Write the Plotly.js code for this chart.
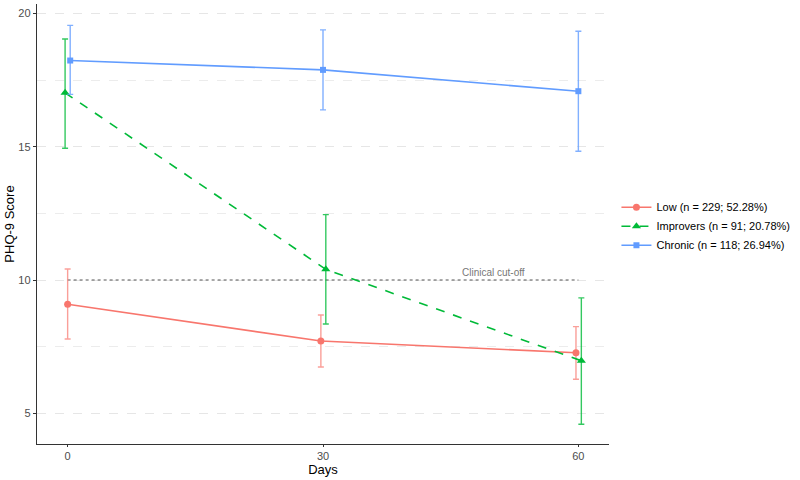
<!DOCTYPE html>
<html>
<head>
<meta charset="utf-8">
<script src="https://cdn.plot.ly/plotly-3.0.1.min.js"></script>
<style>html,body{margin:0;padding:0;background:#fff;}#chart{width:800px;height:480px;}</style>
</head>
<body>
<div id="chart"></div>
<script>
// Series names
const seriesNames = ["Low (n = 229; 52.28%)", "Improvers (n = 91; 20.78%)", "Chronic (n = 118; 26.94%)"];
// Days of measurement
const days = [0, 30, 60];
// Dodge offsets (days) per series
const lowDodge = [0, -0.25, -0.28];
const improversDodge = [-0.3, 0.33, 0.35];
const chronicDodge = [0.3, 0, 0];
// Mean PHQ-9 scores
const lowMean = [9.09, 7.71, 7.27];
const improversMean = [17.02, 10.4, 6.97];
const chronicMean = [18.23, 17.88, 17.08];
// Error bar upper / lower bounds
const lowUpper = [10.41, 8.69, 8.25];
const lowLower = [7.79, 6.74, 6.28];
const improversUpper = [19.04, 12.45, 9.33];
const improversLower = [14.94, 8.35, 4.59];
const chronicUpper = [19.55, 19.38, 19.33];
const chronicLower = [16.96, 16.38, 14.83];
// Clinical cut-off
const cutoffDays = [0, 60];
const cutoffValue = 10;
const cutoffLabel = "Clinical cut-off";
const xTicks = [0, 30, 60];
const yTicks = [5, 10, 15, 20];

const colors = ["#F8766D", "#00BA38", "#619CFF"];
const errColors = ["rgba(248,118,109,0.7)", "rgba(0,186,56,0.8)", "rgba(97,156,255,0.8)"];

function mk(name, dodge, y, up, lo, color, errColor, dash, symbol, size) {
  return {
    type: "scatter", mode: "lines+markers", name: name,
    x: days.map((d, i) => d + dodge[i]), y: y,
    line: {color: color, width: 1.6, dash: dash},
    marker: {color: color, symbol: symbol, size: size},
    error_y: {type: "data", symmetric: false,
      array: y.map((v, i) => up[i] - v),
      arrayminus: y.map((v, i) => v - lo[i]),
      color: errColor, thickness: 1.4, width: 3}
  };
}

const traces = [
  {type: "scatter", mode: "lines", x: cutoffDays, y: cutoffDays.map(() => cutoffValue),
   line: {color: "#555555", width: 1.1, dash: "dot"}, showlegend: false, hoverinfo: "skip"},
  mk(seriesNames[0], lowDodge, lowMean, lowUpper, lowLower, colors[0], errColors[0], "solid", "circle", 7),
  mk(seriesNames[1], improversDodge, improversMean, improversUpper, improversLower, colors[1], errColors[1], "dash", "triangle-up", 8),
  mk(seriesNames[2], chronicDodge, chronicMean, chronicUpper, chronicLower, colors[2], errColors[2], "solid", "square", 6)
];

const layout = {
  width: 800, height: 480,
  margin: {l: 37, r: 191, t: 4, b: 36},
  paper_bgcolor: "#fff", plot_bgcolor: "#fff",
  font: {family: "Liberation Sans, Arial, sans-serif", color: "#000"},
  showlegend: true,
  legend: {x: 1.013, xanchor: "left", y: 0.495, yanchor: "middle", font: {size: 11, color: "#000"},
           tracegroupgap: 0, itemwidth: 30, bgcolor: "rgba(0,0,0,0)"},
  xaxis: {range: [-3.6, 63.6], tickvals: xTicks, ticktext: xTicks.map(String),
          showgrid: false, zeroline: false, showline: true, linecolor: "#333", linewidth: 1.2,
          ticks: "outside", ticklen: 2, tickcolor: "#333", tickfont: {size: 11, color: "#4d4d4d"},
          title: {text: "Days", font: {size: 13, color: "#000"}, standoff: 0}},
  yaxis: {range: [3.85, 20.35], tickvals: yTicks, ticktext: yTicks.map(String),
          showgrid: true, gridcolor: "#e6e6e6", griddash: "dash", gridwidth: 1,
          minor: {tickvals: [7.5, 12.5, 17.5], showgrid: true, gridcolor: "#ececec", griddash: "dash", gridwidth: 1, ticks: ""},
          zeroline: false, showline: true, linecolor: "#333", linewidth: 1.2,
          ticks: "outside", ticklen: 3, tickcolor: "#333", tickfont: {size: 11, color: "#4d4d4d"},
          title: {text: "PHQ-9 Score", font: {size: 13, color: "#000"}, standoff: 0}},
  annotations: [{x: 50, y: cutoffValue, yshift: 8, text: cutoffLabel, showarrow: false,
                 font: {size: 10, color: "#777"}, xref: "x", yref: "y"}]
};

Plotly.newPlot("chart", traces, layout, {displayModeBar: false, staticPlot: true});
</script>
</body>
</html>
